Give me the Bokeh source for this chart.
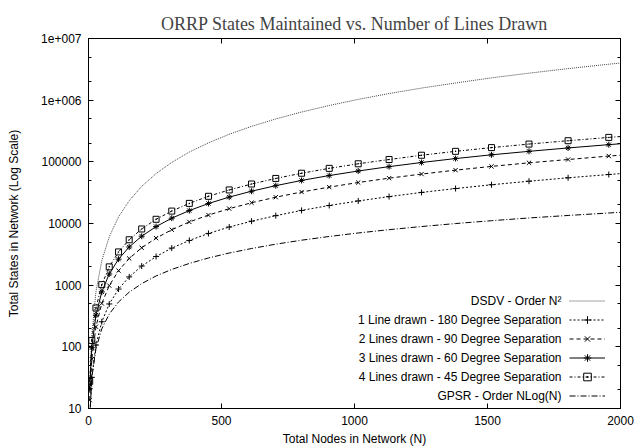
from bokeh.plotting import figure
from bokeh.models import (FixedTicker, LinearAxis, LogAxis, Legend, LegendItem,
                          Label, Range1d)
from bokeh.embed import file_html
from bokeh.resources import INLINE

# ---- data ----
nodes = [4.5, 12.5, 28, 50, 78, 113, 153, 200, 254, 313, 379, 451, 529, 613,
         704, 801, 905, 1014, 1130, 1252, 1380, 1515, 1656, 1803, 1956, 2116]
dsdv = [20, 156, 784, 2500, 6080, 12800, 23400, 40000, 64500, 98000, 144000,
        203000, 280000, 376000, 496000, 642000, 819000, 1030000, 1280000,
        1570000, 1900000, 2300000, 2740000, 3250000, 3830000, 4480000]
line1 = [6.9, 32, 107, 255, 496, 865, 1360, 2040, 2910, 3990, 5310, 6900, 8760,
         10900, 13400, 16300, 19600, 23200, 27300, 31900, 36900, 42500, 48500,
         55100, 62300, 70100]
line2 = [13.7, 63, 212, 506, 985, 1720, 2710, 4040, 5790, 7920, 10600, 13700,
         17400, 21700, 26700, 32400, 38900, 46200, 54300, 63300, 73300, 84300,
         96400, 109000, 124000, 139000]
line3 = [21, 97, 326, 778, 1520, 2640, 4160, 6220, 8910, 12200, 16200, 21100,
         26800, 33400, 41100, 49900, 59900, 71000, 83600, 97500, 113000, 130000,
         148000, 168000, 190000, 214000]
line4 = [27.5, 127, 427, 1020, 1980, 3460, 5450, 8150, 11700, 15900, 21200,
         27600, 35000, 43700, 53800, 65300, 78400, 93000, 109000, 128000,
         148000, 170000, 194000, 220000, 249000, 280000]
gpsr = [6.8, 31.6, 93, 196, 340, 534, 770, 1060, 1410, 1800, 2250, 2760, 3320,
        3930, 4620, 5360, 6160, 7020, 7940, 8930, 9980, 11100, 12300, 13500,
        14800, 16200]

series_names = ["DSDV - Order N\u00b2",
                "1 Line drawn - 180 Degree Separation",
                "2 Lines drawn - 90 Degree Separation",
                "3 Lines drawn - 60 Degree Separation",
                "4 Lines drawn - 45 Degree Separation",
                "GPSR - Order NLog(N)"]

x_ticks = [0, 500, 1000, 1500, 2000]
y_ticks = [10, 100, 1000, 10000, 100000, 1000000, 10000000]
y_tick_labels = ["10", "100", "1000", "10000", "100000", "1e+006", "1e+007"]
y_minor = [t * m for t in y_ticks[:-1] for m in (2, 5)]

FONT = "Liberation Sans"

p = figure(width=636, height=448, x_range=Range1d(0, 2000),
           y_range=Range1d(10, 1e7), y_axis_type="log",
           output_backend="svg", toolbar_location=None,
           min_border_left=88, min_border_right=16,
           min_border_top=38, min_border_bottom=38,
           title="ORRP States Maintained vs. Number of Lines Drawn")
p.title.text_font = "Liberation Serif"
p.title.text_font_size = "18px"
p.title.text_font_style = "normal"
p.title.align = "center"
p.title.standoff = 10
p.grid.visible = False
p.outline_line_color = "black"
p.outline_line_width = 1
p.background_fill_color = "white"
p.border_fill_color = "white"

xt = FixedTicker(ticks=x_ticks, minor_ticks=[])
yt = FixedTicker(ticks=y_ticks, minor_ticks=y_minor)


def style_axis(ax):
    ax.axis_line_color = "black"
    ax.major_tick_in = 5
    ax.major_tick_out = 0
    ax.minor_tick_in = 3
    ax.minor_tick_out = 0
    ax.major_tick_line_color = "black"
    ax.minor_tick_line_color = "black"
    ax.major_label_text_font = FONT
    ax.major_label_text_font_size = "12px"
    ax.major_label_text_color = "black"
    ax.axis_label_text_font = FONT
    ax.axis_label_text_font_size = "12px"
    ax.axis_label_text_font_style = "normal"
    ax.axis_label_text_color = "black"


xa = p.xaxis[0]
xa.ticker = xt
style_axis(xa)
xa.axis_label = "Total Nodes in Network (N)"
xa.major_label_standoff = 7
xa.axis_label_standoff = 4

ya = p.yaxis[0]
ya.ticker = yt
style_axis(ya)
ya.axis_label = "Total States in Network (Log Scale)"
ya.major_label_overrides = {t: s for t, s in zip(y_ticks, y_tick_labels)}
ya.major_label_standoff = 7
ya.axis_label_standoff = 17

top = LinearAxis(ticker=FixedTicker(ticks=x_ticks, minor_ticks=[]))
style_axis(top)
top.major_label_overrides = {t: "" for t in x_ticks}
top.major_label_standoff = 0
p.add_layout(top, "above")

right = LogAxis(ticker=FixedTicker(ticks=y_ticks, minor_ticks=y_minor))
style_axis(right)
right.major_label_overrides = {t: "" for t in y_ticks}
right.major_label_standoff = 0
p.add_layout(right, "right")

styles = [
    (dsdv, "1 1", None, "#444444"),
    (line1, "2 2", "cross", "black"),
    (line2, "4 3", "x", "black"),
    (line3, "solid", "asterisk", "black"),
    (line4, "3 2 1 2", "square_dot", "black"),
    (gpsr, "6 2 1 2", None, "black"),
]

items = []
for vals, dash, marker, color in styles:
    rl = p.line(nodes, vals, line_color=color, line_width=1, line_dash=dash)
    rs = [rl]
    if marker is not None:
        rm = p.scatter(nodes, vals, marker=marker, size=6, line_color="black",
                       fill_color=None, line_width=1)
        rs.append(rm)
    items.append(LegendItem(label=" ", renderers=rs))

legend = Legend(items=items, location=(481, 3.3), orientation="vertical",
                padding=0, margin=0, spacing=0, glyph_width=36,
                glyph_height=19, label_width=0, label_height=19,
                label_standoff=0, label_text_font_size="1px",
                background_fill_alpha=0, border_line_alpha=0)
p.add_layout(legend)

for i, name in enumerate(series_names):
    p.add_layout(Label(x=473, y=3.3 + 9.5 + 19 * (5 - i), x_units="screen",
                       y_units="screen", text=name, text_align="right",
                       text_baseline="middle", text_font=FONT,
                       text_font_size="12px", text_color="black"))

open("out.html", "w").write(file_html(p, INLINE))
